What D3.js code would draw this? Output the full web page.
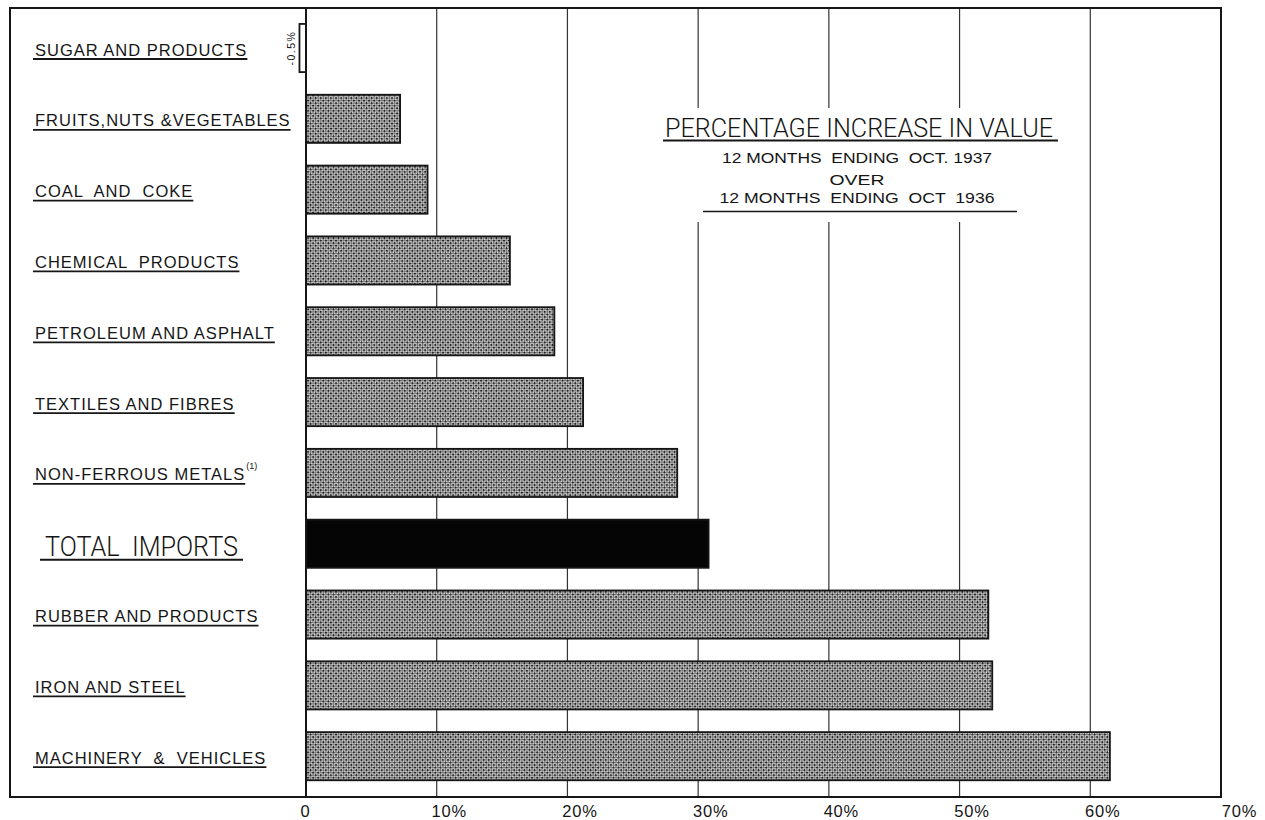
<!DOCTYPE html>
<html><head><meta charset="utf-8">
<script src="https://cdn.jsdelivr.net/npm/d3@7"></script>
<style>
html,body{margin:0;padding:0;background:#fff;}
svg{display:block;}
text{fill:#151515;}
</style></head>
<body>
<svg id="chart" width="1265" height="820"></svg>
<script>
// ---- data ----
const categories = [
  "SUGAR AND PRODUCTS",
  "FRUITS,NUTS &VEGETABLES",
  "COAL  AND  COKE",
  "CHEMICAL  PRODUCTS",
  "PETROLEUM AND ASPHALT",
  "TEXTILES AND FIBRES",
  "NON-FERROUS METALS",
  "TOTAL  IMPORTS",
  "RUBBER AND PRODUCTS",
  "IRON AND STEEL",
  "MACHINERY  &  VEHICLES"
];
const values = [-0.5, 7.2, 9.3, 15.6, 19.0, 21.2, 28.4, 30.8, 52.2, 52.5, 61.5];
const totalCategory = "TOTAL  IMPORTS";
const footnoteCategory = "NON-FERROUS METALS";
const tickValues = [0, 10, 20, 30, 40, 50, 60, 70];
const tickLabels = ["0", "10%", "20%", "30%", "40%", "50%", "60%", "70%"];
const titleText = "PERCENTAGE INCREASE IN VALUE";
const subtitleLines = ["12 MONTHS  ENDING  OCT. 1937", "OVER", "12 MONTHS  ENDING  OCT  1936"];
const negativeLabel = "-0.5%";

// ---- layout ----
const svg = d3.select("#chart");
const frame = {left: 10, top: 8, right: 1221, bottom: 797};
const x = d3.scaleLinear().domain([0, 70]).range([306, 1221]);
const y = d3.scaleBand().domain(categories).range([12.6, 791.6]).paddingInner(0.32).paddingOuter(0.16);
const ink = "#161616";

// hatch pattern
const defs = svg.append("defs");
const pat = defs.append("pattern").attr("id", "hatch").attr("patternUnits", "userSpaceOnUse")
  .attr("width", 3.6).attr("height", 3.6).attr("patternTransform", "rotate(45)");
pat.append("rect").attr("width", 3.6).attr("height", 3.6).attr("fill", "#d0d0d0");
pat.append("rect").attr("width", 2.0).attr("height", 2.0).attr("fill", "#262626");
pat.append("rect").attr("x", 1.8).attr("y", 1.8).attr("width", 1.8).attr("height", 1.8).attr("fill", "#7a7a7a");

svg.append("rect").attr("width", 1265).attr("height", 820).attr("fill", "#fff");

// gridlines
svg.append("g").selectAll("line").data(tickValues.filter(d => d > 0 && d < 70)).join("line")
  .attr("x1", d => x(d)).attr("x2", d => x(d))
  .attr("y1", frame.top).attr("y2", frame.bottom)
  .attr("stroke", "#333").attr("stroke-width", 1.2);

// title block (white box interrupts gridlines)
const tcx = 859;
svg.append("rect").attr("x", 655).attr("y", 108).attr("width", 410).attr("height", 114).attr("fill", "#fff");
svg.append("text").attr("x", tcx).attr("y", 137).attr("text-anchor", "middle")
  .attr("font-family", "Roboto, 'Liberation Sans', sans-serif").attr("font-weight", 300)
  .attr("font-size", 26).attr("textLength", 388).attr("lengthAdjust", "spacingAndGlyphs")
  .text(titleText);
svg.append("line").attr("x1", 663).attr("x2", 1058).attr("y1", 140.5).attr("y2", 140.5).attr("stroke", ink).attr("stroke-width", 1.8);
const subY = [163, 185, 203];
const subLen = [270, 55, 275];
subtitleLines.forEach((s, i) => {
  svg.append("text").attr("x", tcx - 2).attr("y", subY[i]).attr("text-anchor", "middle")
    .attr("font-family", "'Liberation Sans', sans-serif").attr("font-size", 15.5)
    .attr("xml:space", "preserve").style("white-space", "pre")
    .attr("textLength", subLen[i]).attr("lengthAdjust", "spacingAndGlyphs")
    .text(s);
});
svg.append("line").attr("x1", 703).attr("x2", 1017).attr("y1", 211.5).attr("y2", 211.5).attr("stroke", ink).attr("stroke-width", 1.6);

// bars
svg.append("g").selectAll("rect").data(categories).join("rect")
  .attr("x", (d, i) => x(Math.min(0, values[i])))
  .attr("y", d => y(d))
  .attr("width", (d, i) => Math.abs(x(values[i]) - x(0)))
  .attr("height", y.bandwidth())
  .attr("fill", (d, i) => d === totalCategory ? "#050505" : (values[i] < 0 ? "#fff" : "url(#hatch)"))
  .attr("stroke", ink).attr("stroke-width", 1.8);

// negative value label
const negCat = categories[values.findIndex(v => v < 0)];
svg.append("text")
  .attr("transform", `translate(${x(-0.5) - 4},${y(negCat) + y.bandwidth() / 2}) rotate(-90)`)
  .attr("text-anchor", "middle").attr("font-family", "'Liberation Sans', sans-serif")
  .attr("font-size", 10.5).attr("letter-spacing", 1.5).text(negativeLabel);

// category labels
const lab = svg.append("g");
categories.forEach((c, i) => {
  const cy = y(c) + y.bandwidth() / 2;
  const isTotal = c === totalCategory;
  const t = lab.append("text")
    .attr("x", isTotal ? 45 : 35).attr("y", isTotal ? cy + 12 : cy + 7.5)
    .attr("font-family", isTotal ? "Roboto, 'Liberation Sans', sans-serif" : "'Liberation Sans', sans-serif")
    .attr("font-weight", isTotal ? 300 : 400)
    .attr("font-size", isTotal ? 27 : 16.5)
    .attr("letter-spacing", isTotal ? 0 : 1.0)
    .attr("xml:space", "preserve")
    .style("white-space", "pre")
    .text(c);
  if (isTotal) t.attr("textLength", 193).attr("lengthAdjust", "spacingAndGlyphs");
  const bb = t.node().getBBox();
  let x2 = bb.x + bb.width;
  if (c === footnoteCategory) {
    lab.append("text").attr("x", x2 + 1).attr("y", cy - 4)
      .attr("font-family", "'Liberation Sans', sans-serif").attr("font-size", 9).text("(1)");
  }
  lab.append("line")
    .attr("x1", isTotal ? 40 : 33).attr("x2", isTotal ? 243 : x2)
    .attr("y1", isTotal ? cy + 16 : cy + 11).attr("y2", isTotal ? cy + 16 : cy + 11)
    .attr("stroke", ink).attr("stroke-width", isTotal ? 2 : 1.8);
});

// frame and zero line
svg.append("rect").attr("x", frame.left).attr("y", frame.top)
  .attr("width", frame.right - frame.left).attr("height", frame.bottom - frame.top)
  .attr("fill", "none").attr("stroke", ink).attr("stroke-width", 2);
svg.append("line").attr("x1", x(0)).attr("x2", x(0)).attr("y1", frame.top).attr("y2", frame.bottom)
  .attr("stroke", ink).attr("stroke-width", 2);

// x axis labels
const axis = d3.axisBottom(x).tickValues(tickValues).tickSize(0).tickFormat((d, i) => tickLabels[i]);
const ag = svg.append("g").attr("transform", `translate(0,${frame.bottom})`).call(axis);
ag.select(".domain").remove();
ag.selectAll("text").attr("font-family", "'Liberation Sans', sans-serif").attr("font-size", 16.5)
  .attr("letter-spacing", 0.8)
  .attr("fill", ink).attr("dy", "1.0em")
  .attr("dx", d => d === 0 ? -1 : (d === 70 ? 18 : 12));
</script>
</body></html>
